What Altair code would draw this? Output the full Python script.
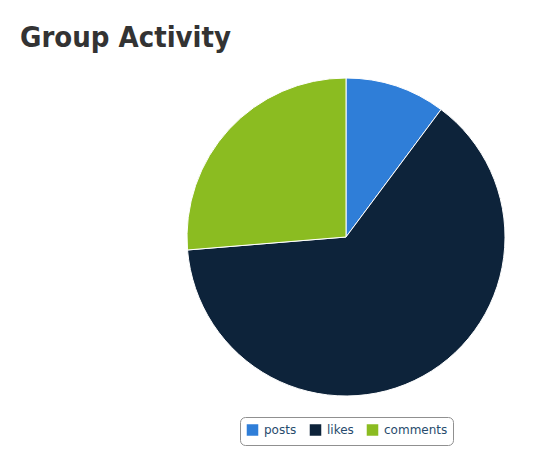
import altair as alt
import pandas as pd

categories = ["posts", "likes", "comments"]
values = [10.2, 63.5, 26.3]
colors = ["#2f7ed8", "#0d233a", "#8bbc21"]

df = pd.DataFrame({"category": categories, "value": values, "order": [0, 1, 2]})

chart = alt.Chart(df).mark_arc(radius=159, stroke="white", strokeWidth=1).encode(
    theta=alt.Theta("value:Q", stack=True),
    order=alt.Order("order:Q"),
    color=alt.Color(
        "category:N",
        sort=categories,
        scale=alt.Scale(domain=categories, range=colors),
        legend=alt.Legend(
            title=None,
            orient="none",
            legendX=232,
            legendY=349,
            direction="horizontal",
            symbolType="square",
            symbolSize=170,
            labelFontSize=12,
            labelColor="#274b6d",
            labelFont="DejaVu Sans",
            strokeColor="#909090",
            cornerRadius=5,
            padding=5,
            columnPadding=8,
        ),
    ),
    x=alt.value(338),
    y=alt.value(169),
).properties(
    width=534,
    height=374,
    autosize=alt.AutoSizeParams(type="none"),
    padding={"left": 0, "top": 60, "right": 0, "bottom": 8},
    title=alt.TitleParams(
        "Group Activity",
        anchor="start",
        dx=12,
        offset=15,
        font="DejaVu Sans Condensed, Roboto Condensed, Open Sans Condensed, Liberation Sans Narrow, DejaVu Sans",
        fontSize=29,
        fontWeight="bold",
        color="#333333",
    ),
).configure_view(stroke=None)

chart.save("out.html", embed_options={"renderer": "svg", "actions": False})
